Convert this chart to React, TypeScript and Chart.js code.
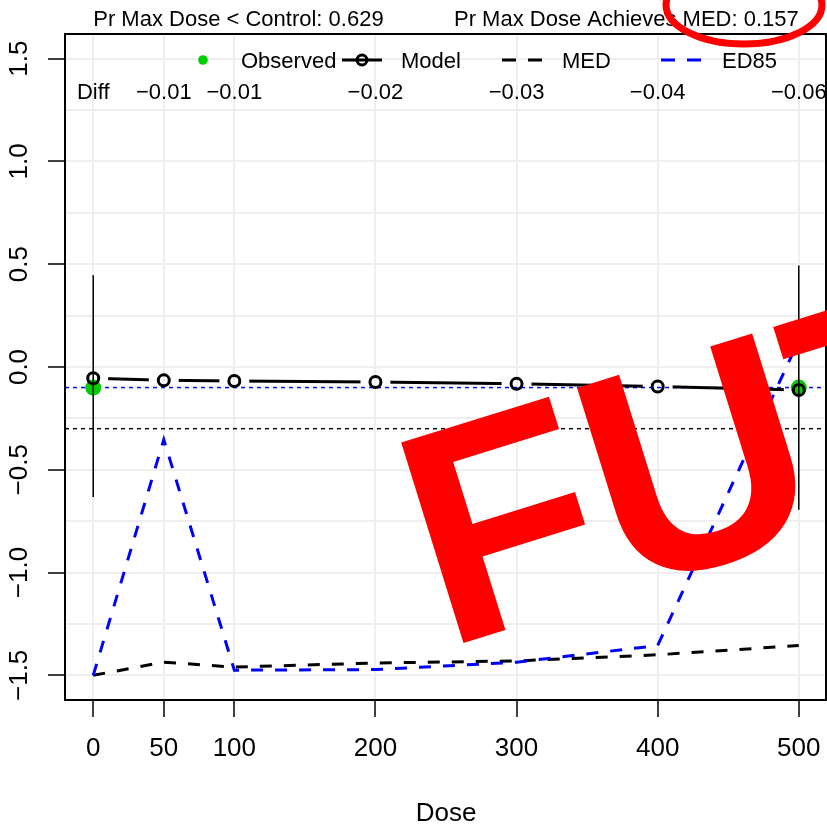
import React, { useEffect, useRef } from 'react';
import { Chart, registerables } from 'chart.js';

Chart.register(...registerables);

// ---- data ----
const doses = [0, 50, 100, 200, 300, 400, 500];
const xTickLabels = ['0', '50', '100', '200', '300', '400', '500'];
const yTickValues = [-1.5, -1.0, -0.5, 0.0, 0.5, 1.0, 1.5];
const yTickLabels = ['\u22121.5', '\u22121.0', '\u22120.5', '0.0', '0.5', '1.0', '1.5'];
const yGridValues = [-1.5, -1.25, -1.0, -0.75, -0.5, -0.25, 0, 0.25, 0.5, 0.75, 1.0, 1.25, 1.5];
const modelValues = [-0.055, -0.065, -0.068, -0.073, -0.082, -0.095, -0.112];
const medValues = [-1.5, -1.436, -1.46, -1.44, -1.43, -1.40, -1.355];
const ed85Values = [-1.5, -0.353, -1.475, -1.472, -1.436, -1.355, 0.13];
const obsDoses = [0, 500];
const obsValues = [-0.10, -0.10];
const obsLower = [-0.632, -0.694];
const obsUpper = [0.446, 0.494];
const diffHeader = 'Diff';
const diffDoses = [50, 100, 200, 300, 400, 500];
const diffLabels = ['\u22120.01', '\u22120.01', '\u22120.02', '\u22120.03', '\u22120.04', '\u22120.06'];
const targetValue = -0.1;
const controlValue = -0.3;
const xLimits = [-20, 520];
const yLimits = [-1.62, 1.62];
const legendLabels = ['Observed', 'Model', 'MED', 'ED85'];
const titleLeft = 'Pr Max Dose < Control: 0.629';
const titleRight = 'Pr Max Dose Achieves MED: 0.157';
const xAxisTitle = 'Dose';
const stampText = 'FUT';

const FONT = "'Liberation Sans', Arial, Helvetica, sans-serif";
const GREEN = '#00CD00';
const BLUE = '#0000FF';

const isHalf = (v: number) => Math.abs(v * 2 - Math.round(v * 2)) < 1e-9;

const gapClipPlugin = {
  id: 'gapClip',
  beforeDatasetDraw(chart: any, args: any) {
    const ds = chart.data.datasets[args.index];
    if (ds.label !== 'Model line') return;
    const ctx = chart.ctx;
    const xs = chart.scales.x;
    const ys = chart.scales.y;
    ctx.save();
    ctx.beginPath();
    ctx.rect(0, 0, chart.width, chart.height);
    doses.forEach((d, i) => {
      const px = xs.getPixelForValue(d);
      const py = ys.getPixelForValue(modelValues[i]);
      ctx.moveTo(px + 15, py);
      ctx.arc(px, py, 15, 0, Math.PI * 2);
    });
    ctx.clip('evenodd');
  },
  afterDatasetDraw(chart: any, args: any) {
    const ds = chart.data.datasets[args.index];
    if (ds.label !== 'Model line') return;
    chart.ctx.restore();
  },
};

const decorPlugin = {
  id: 'decor',
  afterDraw(chart: any) {
    const ctx = chart.ctx;
    const xs = chart.scales.x;
    const ys = chart.scales.y;
    const ca = chart.chartArea;
    ctx.save();
    // box
    ctx.strokeStyle = '#000';
    ctx.lineWidth = 2;
    ctx.setLineDash([]);
    ctx.strokeRect(ca.left, ca.top, ca.right - ca.left - 1, ca.bottom - ca.top);

    ctx.fillStyle = '#000';
    // y tick labels (rotated)
    ctx.font = `26px ${FONT}`;
    ctx.textAlign = 'center';
    ctx.textBaseline = 'alphabetic';
    yTickValues.forEach((v, i) => {
      const py = ys.getPixelForValue(v);
      ctx.save();
      ctx.translate(27, py);
      ctx.rotate(-Math.PI / 2);
      ctx.fillText(yTickLabels[i], 0, 0);
      ctx.restore();
    });
    // x tick labels
    doses.forEach((d, i) => {
      ctx.fillText(xTickLabels[i], xs.getPixelForValue(d), 756);
    });
    // x axis title
    ctx.fillText(xAxisTitle, (ca.left + ca.right) / 2, 821);

    // titles
    ctx.font = `22px ${FONT}`;
    ctx.textAlign = 'left';
    ctx.fillText(titleLeft, xs.getPixelForValue(doses[0]), 26);
    ctx.textAlign = 'right';
    ctx.fillText(titleRight, xs.getPixelForValue(doses[doses.length - 1]), 26);

    // diff row
    ctx.textAlign = 'center';
    ctx.fillText(diffHeader, xs.getPixelForValue(doses[0]), 99);
    diffDoses.forEach((d, i) => {
      ctx.fillText(diffLabels[i], xs.getPixelForValue(d), 99);
    });

    // legend
    const ly = 60;
    ctx.textAlign = 'left';
    // Observed
    ctx.fillStyle = GREEN;
    ctx.beginPath();
    ctx.arc(203, ly, 4.8, 0, Math.PI * 2);
    ctx.fill();
    ctx.fillStyle = '#000';
    ctx.fillText(legendLabels[0], 241, 68);
    // Model
    ctx.strokeStyle = '#000';
    ctx.lineWidth = 3;
    ctx.beginPath();
    ctx.moveTo(342, ly);
    ctx.lineTo(382, ly);
    ctx.stroke();
    ctx.beginPath();
    ctx.arc(362, ly, 5, 0, Math.PI * 2);
    ctx.stroke();
    ctx.fillText(legendLabels[1], 401, 68);
    // MED
    ctx.setLineDash([14, 12]);
    ctx.beginPath();
    ctx.moveTo(502, ly);
    ctx.lineTo(542, ly);
    ctx.stroke();
    ctx.fillText(legendLabels[2], 562, 68);
    // ED85
    ctx.strokeStyle = BLUE;
    ctx.beginPath();
    ctx.moveTo(661, ly);
    ctx.lineTo(701, ly);
    ctx.stroke();
    ctx.setLineDash([]);
    ctx.fillText(legendLabels[3], 722, 68);

    // FUT stamp
    ctx.save();
    ctx.translate(444, 649);
    ctx.rotate((-17.27 * Math.PI) / 180);
    ctx.font = `bold 305px ${FONT}`;
    ctx.fillStyle = '#FF0000';
    ctx.textAlign = 'left';
    ctx.fillText(stampText, 0, 0);
    ctx.restore();

    // ellipse highlight
    ctx.strokeStyle = '#FF0000';
    ctx.lineWidth = 7;
    ctx.beginPath();
    ctx.ellipse(744, 5, 78, 39, 0, 0, Math.PI * 2);
    ctx.stroke();

    ctx.restore();
  },
};

export default function App() {
  const ref = useRef<HTMLCanvasElement | null>(null);
  useEffect(() => {
    document.body.style.margin = '0';
    const canvas = ref.current;
    if (!canvas) return;
    const pts = (vals: number[]) => doses.map((d, i) => ({ x: d, y: vals[i] }));
    const chart = new Chart(canvas, {
      type: 'scatter',
      data: {
        datasets: [
          {
            label: 'Model',
            data: pts(modelValues),
            showLine: false,
            pointRadius: 5.5,
            pointBorderWidth: 3,
            pointBorderColor: '#000',
            pointBackgroundColor: 'rgba(0,0,0,0)',
            order: 0,
          },
          {
            label: 'Model line',
            data: pts(modelValues),
            showLine: true,
            borderColor: '#000',
            borderWidth: 3,
            pointRadius: 0,
            order: 1,
          },
          ...obsDoses.map((d, i) => ({
            label: 'Error bar ' + i,
            data: [
              { x: d, y: obsLower[i] },
              { x: d, y: obsUpper[i] },
            ],
            showLine: true,
            borderColor: '#000',
            borderWidth: 1.5,
            pointRadius: 0,
            order: 2,
          })),
          {
            label: 'Observed',
            data: obsDoses.map((d, i) => ({ x: d, y: obsValues[i] })),
            showLine: false,
            pointRadius: 8,
            pointBorderWidth: 0,
            pointBackgroundColor: GREEN,
            pointBorderColor: GREEN,
            order: 3,
          },
          {
            label: 'ED85',
            data: pts(ed85Values),
            showLine: true,
            borderColor: BLUE,
            borderWidth: 3,
            borderDash: [12, 12],
            pointRadius: 0,
            order: 4,
          },
          {
            label: 'MED',
            data: pts(medValues),
            showLine: true,
            borderColor: '#000',
            borderWidth: 3,
            borderDash: [12, 12],
            pointRadius: 0,
            order: 5,
          },
          {
            label: 'Target',
            data: [
              { x: xLimits[0], y: targetValue },
              { x: xLimits[1], y: targetValue },
            ],
            showLine: true,
            borderColor: BLUE,
            borderWidth: 1.5,
            borderDash: [4, 4],
            pointRadius: 0,
            order: 6,
          },
          {
            label: 'Control',
            data: [
              { x: xLimits[0], y: controlValue },
              { x: xLimits[1], y: controlValue },
            ],
            showLine: true,
            borderColor: '#000',
            borderWidth: 1.5,
            borderDash: [4, 4],
            pointRadius: 0,
            order: 7,
          },
        ],
      },
      options: {
        animation: false,
        responsive: false,
        maintainAspectRatio: false,
        devicePixelRatio: 1,
        layout: { autoPadding: false, padding: { top: 34, right: 0, left: 0, bottom: 0 } },
        plugins: {
          legend: { display: false },
          tooltip: { enabled: false },
          title: { display: false },
        },
        scales: {
          x: {
            type: 'linear',
            position: 'bottom',
            min: xLimits[0],
            max: xLimits[1],
            afterBuildTicks: (s: any) => {
              s.ticks = doses.map((v) => ({ value: v }));
            },
            afterFit: (s: any) => {
              s.height = 129;
              s.paddingLeft = 0;
              s.paddingRight = 0;
              s.paddingTop = 0;
              s.paddingBottom = 0;
            },
            ticks: { display: false },
            grid: {
              color: '#EEEEEE',
              lineWidth: 2,
              drawTicks: true,
              tickLength: 17,
              tickColor: '#000',
              tickWidth: 1.5,
            },
            border: { display: false },
          },
          y: {
            type: 'linear',
            position: 'left',
            min: yLimits[0],
            max: yLimits[1],
            afterBuildTicks: (s: any) => {
              s.ticks = yGridValues.map((v) => ({ value: v }));
            },
            afterFit: (s: any) => {
              s.width = 65;
              s.paddingLeft = 0;
              s.paddingRight = 0;
              s.paddingTop = 0;
              s.paddingBottom = 0;
            },
            ticks: { display: false },
            grid: {
              color: '#EEEEEE',
              lineWidth: 2,
              drawTicks: true,
              tickLength: 17,
              tickColor: (c: any) => (c.tick && isHalf(c.tick.value) ? '#000' : 'rgba(0,0,0,0)'),
              tickWidth: 1.5,
            },
            border: { display: false },
          },
        },
      } as any,
      plugins: [gapClipPlugin, decorPlugin],
    });
    return () => chart.destroy();
  }, []);
  return (
    <div style={{ width: 827, height: 829 }}>
      <canvas ref={ref} width={827} height={829} style={{ display: 'block', width: 827, height: 829 }} />
    </div>
  );
}
